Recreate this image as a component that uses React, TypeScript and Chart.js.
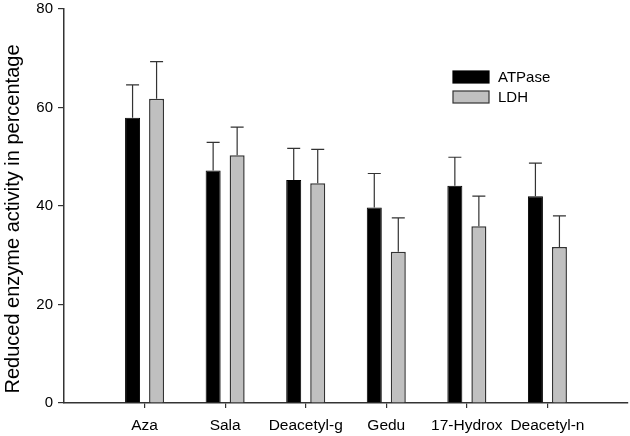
import React, { useEffect, useRef } from "react";
import { Chart, registerables } from "chart.js";

Chart.register(...registerables);

const categories = ["Aza", "Sala", "Deacetyl-g", "Gedu", "17-Hydrox", "Deacetyl-n"];
const atpaseValues = [57.9, 47.2, 45.3, 39.7, 44.1, 42.0];
const atpaseErrors = [6.7, 5.7, 6.4, 6.9, 5.8, 6.7];
const ldhValues = [61.8, 50.3, 44.6, 30.7, 35.9, 31.7];
const ldhErrors = [7.5, 5.7, 6.9, 6.9, 6.1, 6.3];
const yTicks = [0, 20, 40, 60, 80];
const yTitle = "Reduced enzyme activity in percentage";
const seriesNames = ["ATPase", "LDH"];

const FONT = "'Liberation Sans', Arial, sans-serif";
const AXIS = "#333333";

// pad the category list with an empty slot at each end (axis spans 8 slots)
const labels = ["", ...categories, ""];
const pad = (arr: number[]) => [null, ...arr, null];

const errorBars = {
  id: "errorBars",
  afterDatasetsDraw(chart: any) {
    const ctx = chart.ctx;
    const y = chart.scales.y;
    const errs = [atpaseErrors, ldhErrors];
    ctx.save();
    ctx.strokeStyle = AXIS;
    ctx.lineWidth = 1.2;
    chart.data.datasets.forEach((ds: any, di: number) => {
      const meta = chart.getDatasetMeta(di);
      meta.data.forEach((bar: any, i: number) => {
        const v = ds.data[i];
        if (v == null) return;
        const e = errs[di][i - 1];
        const top = y.getPixelForValue(v + e);
        ctx.beginPath();
        ctx.moveTo(bar.x, bar.y);
        ctx.lineTo(bar.x, top);
        ctx.moveTo(bar.x - 6.5, top);
        ctx.lineTo(bar.x + 6.5, top);
        ctx.stroke();
      });
    });
    ctx.restore();
  },
};

const legendPlugin = {
  id: "customLegend",
  afterDraw(chart: any) {
    const ctx = chart.ctx;
    const area = chart.chartArea;
    const x0 = area.left + 389;
    const y0 = area.top + 62;
    ctx.save();
    chart.data.datasets.forEach((ds: any, i: number) => {
      const yy = y0 + i * 20;
      ctx.fillStyle = ds.backgroundColor;
      ctx.fillRect(x0, yy, 36, 12);
      ctx.strokeStyle = ds.borderColor;
      ctx.lineWidth = 1.2;
      ctx.strokeRect(x0, yy, 36, 12);
      ctx.fillStyle = "#000";
      ctx.font = `15px ${FONT}`;
      ctx.textBaseline = "middle";
      ctx.textAlign = "left";
      ctx.fillText(ds.label, x0 + 45, yy + 6.5);
    });
    ctx.restore();
  },
};

const yTitlePlugin = {
  id: "yTitle",
  afterDraw(chart: any) {
    const ctx = chart.ctx;
    const area = chart.chartArea;
    ctx.save();
    ctx.translate(13, area.top + 210);
    ctx.rotate(-Math.PI / 2);
    ctx.fillStyle = "#000";
    ctx.font = `20px ${FONT}`;
    ctx.textAlign = "center";
    ctx.textBaseline = "middle";
    ctx.fillText(yTitle, 0, 0);
    ctx.restore();
  },
};

export default function App() {
  const ref = useRef<HTMLCanvasElement>(null);

  useEffect(() => {
    if (!ref.current) return;
    const chart = new Chart(ref.current, {
      type: "bar",
      data: {
        labels,
        datasets: [
          {
            label: seriesNames[0],
            data: pad(atpaseValues) as any,
            backgroundColor: "#000000",
            borderColor: "#000000",
            borderWidth: 1,
          },
          {
            label: seriesNames[1],
            data: pad(ldhValues) as any,
            backgroundColor: "#c0c0c0",
            borderColor: "#333333",
            borderWidth: 1.5,
          },
        ],
      },
      options: {
        responsive: false,
        animation: false,
        categoryPercentage: 0.596,
        barPercentage: 0.625,
        layout: { padding: { top: 9, right: 2, left: 0, bottom: 0 } },
        plugins: {
          legend: { display: false },
          tooltip: { enabled: false },
        },
        scales: {
          x: {
            offset: false,
            grid: {
              offset: false,
              drawOnChartArea: false,
              tickLength: 5,
              tickColor: (c: any) =>
                c.index === 0 || c.index === labels.length - 1 ? "rgba(0,0,0,0)" : AXIS,
              lineWidth: 1.2,
            },
            border: { color: AXIS, width: 1.5 },
            ticks: {
              color: "#000",
              font: { family: FONT, size: 15.5, lineHeight: 2 },
              padding: 2,
              maxRotation: 0,
              autoSkip: false,
            },
            afterFit: (s: any) => {
              s.height = 33;
            },
          },
          y: {
            min: 0,
            max: 80,
            afterBuildTicks: (s: any) => {
              s.ticks = yTicks.map((v) => ({ value: v }));
            },
            grid: {
              drawOnChartArea: false,
              tickLength: 6,
              color: AXIS,
              lineWidth: 1.2,
            },
            border: { color: AXIS, width: 1.5 },
            ticks: {
              color: "#000",
              font: { family: FONT, size: 15, lineHeight: 0.5 },
              padding: 5,
            },
            afterFit: (s: any) => {
              s.width = 64;
            },
          },
        },
      },
      plugins: [errorBars, legendPlugin, yTitlePlugin],
    });
    return () => chart.destroy();
  }, []);

  return (
    <div style={{ position: "absolute", left: 0, top: 0, width: 630, height: 436, background: "#fff" }}>
      <canvas ref={ref} width={630} height={436} style={{ display: "block" }} />
    </div>
  );
}
